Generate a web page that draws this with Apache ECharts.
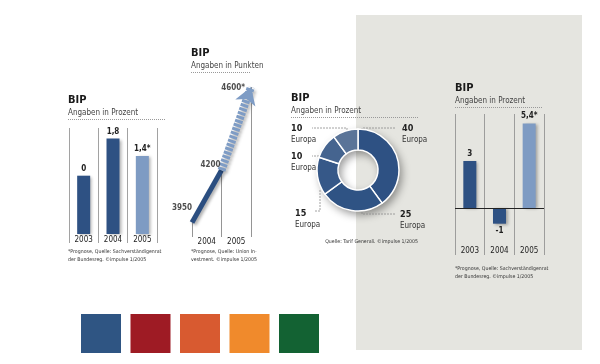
<!DOCTYPE html>
<html>
<head>
<meta charset="utf-8">
<script src="https://cdn.jsdelivr.net/npm/echarts@6/dist/echarts.min.js"></script>
<style>html,body{margin:0;padding:0;background:#fff}#c{width:600px;height:364px}</style>
</head>
<body>
<div id="c"></div>
<script>
// ---- data ----
const cats1 = ['2003', '2004', '2005'];
const barHeights1 = [1.1, 1.8, 1.47];      // drawn bar heights as pictured
const barLabels1 = ['0', '1,8', '1,4*'];
const lineX = [0, 1, 2];
const lineValues = [3950, 4200, 4600];
const lineLabels = ['3950', '4200', '4600*'];
const lineYears = ['2004', '2005'];
const pieValues = [40, 25, 15, 10, 10];
const pieLabels = ['40', '25', '15', '10', '10'];
const pieNames = ['Europa', 'Europa', 'Europa', 'Europa', 'Europa'];
const cats4 = ['2003', '2004', '2005'];
const barValues4 = [3, -1, 5.4];
const barLabels4 = ['3', '-1', '5,4*'];
const palette = ['#2f5583', '#9e1b24', '#d85a30', '#f08a2c', '#136233'];

const FONT = "'Liberation Sans Narrow', 'DejaVu Sans Condensed', sans-serif";
const DARK = '#2e5183';
const LIGHT = '#7e9bc3';
const pieColors = ['#2e5183', '#2f5384', '#365888', '#45648f', '#5a7498'];
const barShadow = {shadowColor: 'rgba(0,0,0,0.3)', shadowBlur: 3, shadowOffsetX: 2, shadowOffsetY: 1};

const chart = echarts.init(document.getElementById('c'), null, {renderer: 'canvas'});

function title(text, sub, left, top) {
  return {
    text: text, subtext: sub, left: left, top: top, padding: 0, itemGap: 3,
    textStyle: {fontFamily: FONT, fontSize: 11, fontWeight: 'bold', color: '#1a1a1a'},
    subtextStyle: {fontFamily: FONT, fontSize: 8, color: '#444'}
  };
}
function dotted(x1, x2, y) {
  return {type: 'line', shape: {x1: x1, y1: y, x2: x2, y2: y}, style: {stroke: '#999', lineWidth: 1, lineDash: [1, 1]}};
}
function note(x, y, text, align) {
  return {type: 'text', x: x, y: y, style: {text: text, fontFamily: FONT, fontSize: 5.2, fill: '#333', align: align || 'left', verticalAlign: 'top', lineHeight: 7.5}};
}

const graphics = [
  {type: 'rect', z: -10, shape: {x: 356, y: 15, width: 226, height: 335}, style: {fill: '#e5e5e0'}},
  dotted(68, 166, 119.5),
  dotted(191, 250, 72.5),
  dotted(291, 419, 117.5),
  dotted(455, 543, 107.5),
  note(68, 248, '*Prognose, Quelle: Sachverständigenrat\nder Bundesreg. ©impulse 1/2005'),
  note(191, 248, '*Prognose, Quelle: Union In-\nvestment. ©impulse 1/2005'),
  note(418, 238, 'Quelle: Tarif Generali. ©impulse 1/2005', 'right'),
  note(455, 265, '*Prognose, Quelle: Sachverständigenrat\nder Bundesreg. ©impulse 1/2005')
];
palette.forEach(function (c, i) {
  graphics.push({type: 'rect', shape: {x: 81 + i * 49.5, y: 314, width: 40, height: 39}, style: {fill: c}});
});

const pieLayout = [
  {x: 402, y: 123, pts: [[395, 128], [362, 128], [362, 132]]},
  {x: 400, y: 209, pts: [[362, 197], [362, 214], [395, 214]]},
  {x: 295, y: 208, pts: [[320, 190], [320, 211], [314, 211]]},
  {x: 291, y: 151, pts: [[333, 153], [329, 156], [312, 156]]},
  {x: 291, y: 123, pts: [[347, 133], [347, 128], [312, 128]]}
];

const vLine = {show: true, interval: 0, lineStyle: {color: '#8a8a8a', width: 0.8}};
const yearLabel = {fontFamily: FONT, fontSize: 8, color: '#222'};

chart.setOption({
  animation: false,
  backgroundColor: '#fff',
  textStyle: {fontFamily: FONT},
  title: [
    title('BIP', 'Angaben in Prozent', 68, 95),
    title('BIP', 'Angaben in Punkten', 191, 48),
    title('BIP', 'Angaben in Prozent', 291, 93),
    title('BIP', 'Angaben in Prozent', 455, 83)
  ],
  graphic: graphics,
  grid: [
    {left: 69, top: 128, width: 88, height: 106},
    {left: 192, top: 87, width: 59, height: 150},
    {left: 455, top: 114, width: 89, height: 131}
  ],
  xAxis: [
    {type: 'category', gridIndex: 0, data: cats1, axisLine: {show: false},
     axisTick: {show: true, interval: 0, length: 9, lineStyle: {color: '#8a8a8a', width: 0.8}},
     axisLabel: Object.assign({margin: 2}, yearLabel), splitLine: vLine},
    {type: 'value', gridIndex: 1, min: 0, max: 2, interval: 0.5, axisLine: {show: false},
     axisTick: {show: false}, splitLine: {show: false},
     axisLabel: Object.assign({margin: 1, formatter: function (v) {
       if (Math.abs(v - 0.5) < 1e-6) return lineYears[0];
       if (Math.abs(v - 1.5) < 1e-6) return lineYears[1];
       return '';
     }}, yearLabel)},
    {type: 'category', gridIndex: 2, data: cats4, axisLine: {show: false, onZero: false},
     axisTick: {show: true, interval: 0, length: 10, lineStyle: {color: '#8a8a8a', width: 0.8}},
     axisLabel: Object.assign({margin: 2}, yearLabel), splitLine: vLine}
  ],
  yAxis: [
    {type: 'value', gridIndex: 0, min: 0, max: 2, show: false},
    {type: 'value', gridIndex: 1, min: 3880, max: 4600, show: false},
    {type: 'value', gridIndex: 2, min: -2.36, max: 6, show: false}
  ],
  series: [
    {
      type: 'bar', xAxisIndex: 0, yAxisIndex: 0, barWidth: 13,
      data: barHeights1.map(function (v, i) {
        return {value: v, itemStyle: Object.assign({color: i === 2 ? LIGHT : DARK}, barShadow)};
      }),
      label: {show: true, position: 'top', distance: 3, fontFamily: FONT, fontSize: 8, fontWeight: 'bold', color: '#222',
              formatter: function (p) { return barLabels1[p.dataIndex]; }}
    },
    {
      type: 'line', xAxisIndex: 1, yAxisIndex: 1, symbol: 'none', z: 4,
      data: [[lineX[0], lineValues[0]], [lineX[1], lineValues[1]]],
      lineStyle: {color: '#2b4e80', width: 5, shadowColor: 'rgba(0,0,0,0.3)', shadowBlur: 3, shadowOffsetX: 2, shadowOffsetY: 2},
      markLine: {
        silent: true, symbol: 'none', label: {show: false}, z: 1,
        lineStyle: {color: '#7a7a7a', width: 0.8, type: 'solid'},
        data: lineX.map(function (x, i) {
          return [{coord: [x, lineValues[i]]}, {coord: [x, 3880]}];
        })
      }
    },
    {
      type: 'line', xAxisIndex: 1, yAxisIndex: 1, symbol: 'none', data: [], z: 5,
      markLine: {
        silent: true, symbol: ['none', 'arrow'], symbolSize: [16, 17], label: {show: false},
        lineStyle: {color: '#7e9cc5', width: 8, type: [3, 1.2], opacity: 1,
                    shadowColor: 'rgba(0,0,0,0.3)', shadowBlur: 3, shadowOffsetX: 2, shadowOffsetY: 2},
        data: [[{coord: [lineX[1], lineValues[1]]}, {coord: [lineX[2], lineValues[2]]}]]
      }
    },
    {
      type: 'scatter', xAxisIndex: 1, yAxisIndex: 1, symbolSize: 0, z: 6,
      data: lineX.map(function (x, i) { return [x, lineValues[i]]; }),
      label: {show: true, position: [0, 0], align: 'right', verticalAlign: 'middle',
              fontFamily: FONT, fontSize: 8, fontWeight: 'bold', color: '#222',
              formatter: function (p) { return lineLabels[p.dataIndex]; }},
      labelLayout: function (p) {
        const offs = [[0, -14], [-1, -5], [-6, 1]];
        return {dx: offs[p.dataIndex][0], dy: offs[p.dataIndex][1]};
      }
    },
    {
      type: 'pie', center: [358, 170], radius: [20, 41], silent: true, z: 1,
      data: [{value: 1, itemStyle: {color: '#fff', shadowColor: 'rgba(0,0,0,0.4)', shadowBlur: 8, shadowOffsetX: 3, shadowOffsetY: 4}}],
      label: {show: false}, labelLine: {show: false}
    },
    {
      type: 'pie', center: [358, 170], radius: [20, 41], startAngle: 90, clockwise: true, z: 2,
      data: pieValues.map(function (v, i) {
        return {value: v, name: pieNames[i], itemStyle: {color: pieColors[i]}};
      }),
      itemStyle: {borderColor: '#fff', borderWidth: 1.5},
      label: {show: true, formatter: function (p) { return '{v|' + pieLabels[p.dataIndex] + '}\n{e|' + pieNames[p.dataIndex] + '}'; },
              rich: {v: {fontFamily: FONT, fontSize: 9, fontWeight: 'bold', color: '#222', lineHeight: 11},
                     e: {fontFamily: FONT, fontSize: 8, color: '#333', lineHeight: 11}}},
      labelLine: {show: true, lineStyle: {color: '#8a8a8a', width: 0.8, type: [2, 1]}},
      labelLayout: function (p) {
        const L = pieLayout[p.dataIndex];
        return {x: L.x, y: L.y, align: 'left', verticalAlign: 'top', labelLinePoints: L.pts};
      }
    },
    {
      type: 'bar', xAxisIndex: 2, yAxisIndex: 2, barWidth: 13,
      data: barValues4.map(function (v, i) {
        return {value: v, itemStyle: Object.assign({color: i === 2 ? LIGHT : DARK}, barShadow),
                label: {position: v < 0 ? 'bottom' : 'top'}};
      }),
      label: {show: true, distance: 3, fontFamily: FONT, fontSize: 8, fontWeight: 'bold', color: '#222',
              formatter: function (p) { return barLabels4[p.dataIndex]; }},
      markLine: {silent: true, symbol: 'none', label: {show: false},
                 lineStyle: {color: '#222', width: 1, type: 'solid'}, data: [{yAxis: 0}]}
    }
  ]
});
</script>
</body>
</html>
